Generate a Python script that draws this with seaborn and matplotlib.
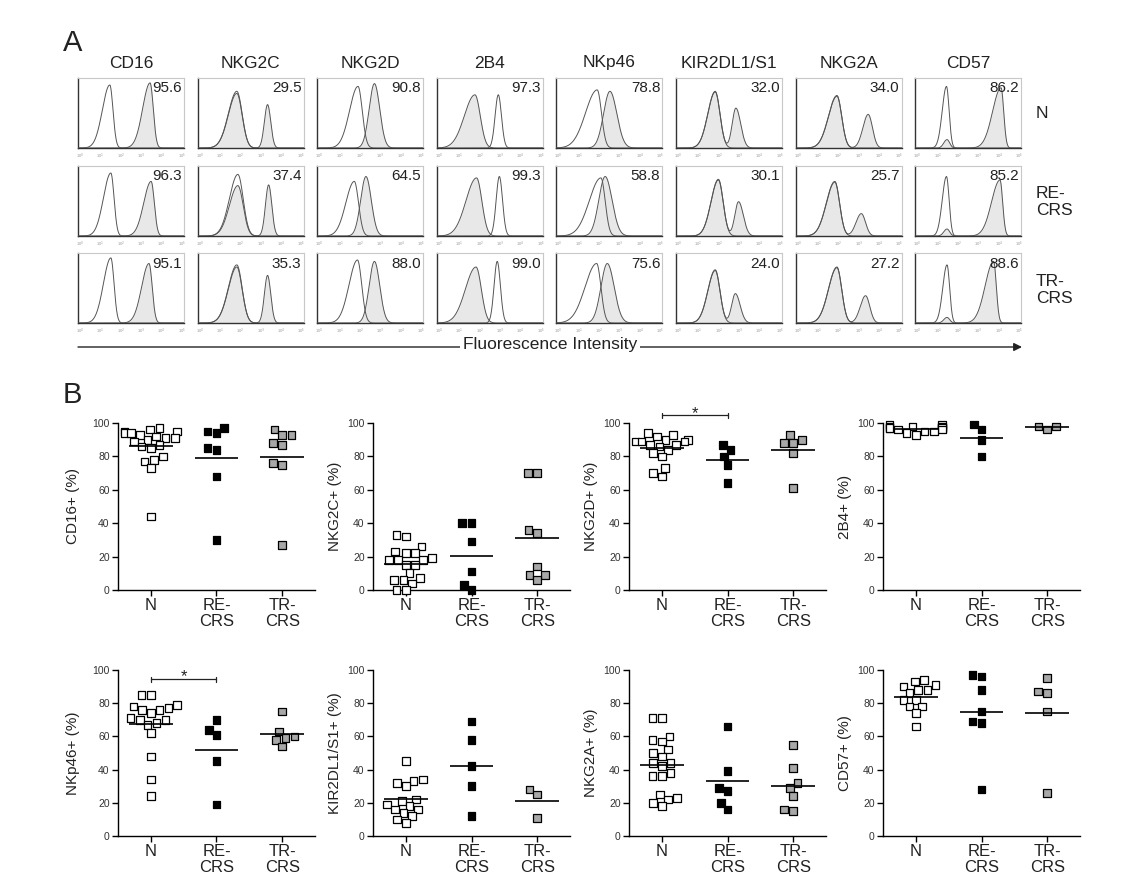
import numpy as np
import pandas as pd
import matplotlib
matplotlib.use("Agg")
import matplotlib.pyplot as plt
import seaborn as sns

# ---------------- Panel A data (flow histograms) ----------------
markers = ["CD16", "NKG2C", "NKG2D", "2B4", "NKp46", "KIR2DL1/S1", "NKG2A", "CD57"]
row_names = ["N", "RE-\nCRS", "TR-\nCRS"]
pct = [[95.6, 96.3, 95.1], [29.5, 37.4, 35.3], [90.8, 64.5, 88.0], [97.3, 99.3, 99.0],
       [78.8, 58.8, 75.6], [32.0, 30.1, 24.0], [34.0, 25.7, 27.2], [86.2, 85.2, 88.6]]

# open (unfilled) curve peak: centre / height per marker x row, widths per marker
open_c = [[0.30, 0.31, 0.31], [0.37, 0.38, 0.37], [0.385, 0.35, 0.38], [0.58, 0.59, 0.57],
          [0.385, 0.42, 0.38], [0.37, 0.40, 0.37], [0.39, 0.37, 0.39], [0.295, 0.295, 0.30]]
open_h = [[0.90, 0.90, 0.93], [0.81, 0.88, 0.83], [0.88, 0.78, 0.90], [0.76, 0.85, 0.88],
          [0.83, 0.83, 0.85], [0.81, 0.81, 0.76], [0.75, 0.78, 0.80], [0.88, 0.85, 0.83]]
open_wl = [0.07, 0.08, 0.08, 0.03, 0.11, 0.07, 0.08, 0.04]
open_wr = [0.03, 0.05, 0.04, 0.03, 0.04, 0.045, 0.045, 0.025]

# filled curve: main peak
fill_c = [[0.68, 0.69, 0.67], [0.37, 0.38, 0.37], [0.54, 0.46, 0.54], [0.36, 0.375, 0.37],
          [0.505, 0.46, 0.48], [0.37, 0.40, 0.37], [0.39, 0.37, 0.39], [0.81, 0.80, 0.74]]
fill_h = [[0.93, 0.78, 0.85], [0.78, 0.72, 0.80], [0.92, 0.85, 0.88], [0.76, 0.83, 0.80],
          [0.81, 0.85, 0.85], [0.80, 0.80, 0.75], [0.74, 0.77, 0.79], [0.86, 0.80, 0.88]]
fill_wl = [0.07, 0.08, 0.05, 0.10, 0.06, 0.07, 0.08, 0.08]
fill_wr = [0.03, 0.05, 0.05, 0.05, 0.065, 0.045, 0.045, 0.025]

# filled curve: second peak (height 0 = none)
sec_c = [[0, 0, 0], [0.66, 0.67, 0.66], [0, 0, 0], [0, 0, 0],
         [0, 0, 0], [0.565, 0.59, 0.56], [0.685, 0.62, 0.66], [0.30, 0.30, 0.30]]
sec_h = [[0, 0, 0], [0.62, 0.73, 0.68], [0, 0, 0], [0, 0, 0],
         [0, 0, 0], [0.57, 0.49, 0.42], [0.48, 0.32, 0.39], [0.12, 0.10, 0.08]]
sec_wl = [0.03, 0.03, 0.03, 0.03, 0.03, 0.035, 0.05, 0.03]
sec_wr = [0.03, 0.03, 0.03, 0.03, 0.03, 0.045, 0.04, 0.025]

hist_ticklabels = ["10$^0$", "10$^1$", "10$^2$", "10$^3$", "10$^4$", "10$^5$"]

# ---------------- Panel B data (% positive cells) ----------------
groups = ["N", "RE-\nCRS", "TR-\nCRS"]

cd16_N = [97, 96, 95, 95, 94, 94, 93, 92, 91, 91, 90, 89, 87, 86, 85, 80, 78, 77, 73, 44]
cd16_RE = [97, 95, 94, 85, 84, 68, 30]
cd16_TR = [96, 93, 93, 88, 87, 76, 75, 27]

nkg2c_N = [33, 32, 26, 23, 22, 22, 19, 18, 18, 18, 15, 15, 10, 7, 6, 6, 4, 0, 0]
nkg2c_RE = [40, 40, 29, 11, 3, 0]
nkg2c_TR = [70, 70, 36, 34, 14, 9, 9, 6]

nkg2d_N = [94, 93, 92, 90, 90, 89, 89, 89, 87, 87, 86, 84, 82, 80, 73, 70, 68]
nkg2d_RE = [87, 84, 80, 75, 64]
nkg2d_TR = [93, 90, 88, 88, 82, 61]

b2b4_N = [99, 99, 98, 98, 98, 97, 97, 97, 97, 96, 96, 95, 95, 94, 93]
b2b4_RE = [99, 96, 90, 80]
b2b4_TR = [98, 98, 96]

nkp46_N = [85, 85, 79, 78, 77, 76, 76, 74, 71, 70, 70, 68, 67, 62, 48, 34, 24]
nkp46_RE = [70, 64, 61, 45, 19]
nkp46_TR = [75, 63, 60, 59, 58, 54]

kir_N = [45, 34, 33, 32, 30, 22, 21, 19, 18, 16, 16, 14, 12, 10, 8]
kir_RE = [69, 58, 42, 30, 12]
kir_TR = [28, 25, 11]

nkg2a_N = [71, 71, 60, 58, 57, 52, 50, 48, 44, 44, 42, 38, 36, 36, 25, 23, 22, 20, 18]
nkg2a_RE = [66, 39, 29, 27, 20, 16]
nkg2a_TR = [55, 41, 32, 29, 24, 16, 15]

cd57_N = [94, 93, 91, 90, 88, 88, 86, 82, 82, 78, 78, 74, 66]
cd57_RE = [97, 96, 88, 75, 69, 68, 28]
cd57_TR = [95, 87, 86, 75, 26]

b_labels = ["CD16+ (%)", "NKG2C+ (%)", "NKG2D+ (%)", "2B4+ (%)",
            "NKp46+ (%)", "KIR2DL1/S1+ (%)", "NKG2A+ (%)", "CD57+ (%)"]
b_data = [(cd16_N, cd16_RE, cd16_TR), (nkg2c_N, nkg2c_RE, nkg2c_TR),
          (nkg2d_N, nkg2d_RE, nkg2d_TR), (b2b4_N, b2b4_RE, b2b4_TR),
          (nkp46_N, nkp46_RE, nkp46_TR), (kir_N, kir_RE, kir_TR),
          (nkg2a_N, nkg2a_RE, nkg2a_TR), (cd57_N, cd57_RE, cd57_TR)]
# significance bars: panel index -> bracket height
sig_bars = {2: 104.5, 4: 94.5}

# ---------------- style ----------------
sns.set_theme(style="white")
plt.rcParams['font.family'] = ['Liberation Sans', 'DejaVu Sans']
plt.rcParams['text.color'] = '#222222'
plt.rcParams['axes.labelcolor'] = '#222222'

W, H = 1124, 890
fig = plt.figure(figsize=(W / 100, H / 100), dpi=100)


def px_axes(l, t, w, h):
    return fig.add_axes([l / W, 1 - (t + h) / H, w / W, h / H])


# overlay for figure-level text
ov = fig.add_axes([0, 0, 1, 1])
ov.set_xlim(0, W)
ov.set_ylim(H, 0)
ov.axis('off')

xs = np.linspace(0, 1, 400)


def peak(c, h, wl, wr):
    w = np.where(xs < c, wl, wr)
    return h * np.exp(-0.5 * ((xs - c) / w) ** 2)


col_left = [78 + 119.6 * j for j in range(8)]
row_top = [78, 166, 253]
hw, hh = 106, 70

for j, m in enumerate(markers):
    ov.text(col_left[j] + hw / 2, 63, m, ha='center', va='center', fontsize=12.5)
    for i in range(3):
        ax = px_axes(col_left[j], row_top[i], hw, hh)
        yo = peak(open_c[j][i], open_h[j][i], open_wl[j], open_wr[j])
        yf = peak(fill_c[j][i], fill_h[j][i], fill_wl[j], fill_wr[j])
        if sec_h[j][i] > 0:
            yf = yf + peak(sec_c[j][i], sec_h[j][i], sec_wl[j], sec_wr[j])
        ax.fill_between(xs, 0, yf, color='#e8e8e8', lw=0, zorder=1)
        sns.lineplot(x=xs, y=yf, ax=ax, color='#555555', lw=0.7, zorder=2)
        sns.lineplot(x=xs, y=yo, ax=ax, color='#555555', lw=0.7, zorder=3)
        ax.set_xlim(0, 1)
        ax.set_ylim(0, 1.0)
        ax.set_xticks(np.linspace(0.02, 0.98, 6))
        ax.set_xticklabels(hist_ticklabels)
        ax.set_yticks([])
        ax.tick_params(axis='x', length=1.5, width=0.5, color='#777777', pad=1,
                       labelsize=3, labelcolor='#999999')
        for s in ['top', 'right']:
            ax.spines[s].set_color('#c8c8c8')
            ax.spines[s].set_linewidth(0.8)
        for s in ['left', 'bottom']:
            ax.spines[s].set_color('#333333')
            ax.spines[s].set_linewidth(1.0)
        ax.set_xlabel('')
        ax.set_ylabel('')
        ax.text(0.98, 0.95, f"{pct[j][i]:.1f}", transform=ax.transAxes,
                ha='right', va='top', fontsize=11, color='#222222', zorder=5)

for i, (yc, lab) in enumerate(zip([113, 202, 290], row_names)):
    ov.text(1036, yc, lab, ha='left', va='center', fontsize=12.5, linespacing=1.1)

ov.text(63, 51, 'A', fontsize=21, va='baseline', ha='left')
ov.text(63, 403, 'B', fontsize=21, va='baseline', ha='left')
ov.annotate('', xy=(1022, 347), xytext=(78, 347),
            arrowprops=dict(arrowstyle='-|>', color='#222222', lw=1.0,
                            mutation_scale=12, shrinkA=0, shrinkB=0))
ov.text(550, 345, 'Fluorescence Intensity', ha='center', va='center', fontsize=12.5,
        bbox=dict(facecolor='white', edgecolor='none', pad=2))

# ---------------- Panel B ----------------
pal = {groups[0]: 'white', groups[1]: 'black', groups[2]: '#a8a8a8'}
b_left = [118, 373, 629, 883]
b_top = [423, 670]
b_h = [167, 166]
b_w = 197
labelpads = [9, 4, 4, 4]

for k in range(8):
    r, c = divmod(k, 4)
    ax = px_axes(b_left[c], b_top[r], b_w, b_h[r])
    vals, grp = [], []
    for g, arr in zip(groups, b_data[k]):
        vals += list(arr)
        grp += [g] * len(arr)
    df = pd.DataFrame({'group': grp, 'value': vals})
    sns.swarmplot(data=df, x='group', y='value', order=groups, hue='group',
                  hue_order=groups, palette=pal, marker='s', size=5.5,
                  linewidth=0.9, edgecolor='black', legend=False, ax=ax,
                  warn_thresh=1, clip_on=False, zorder=3)
    means = df.groupby('group', sort=False)['value'].mean().reindex(groups).values
    xi = np.arange(len(groups))
    ax.hlines(means, xi - 0.33, xi + 0.33, color='black', lw=1.2, zorder=4)
    ax.set_xlim(-0.5, 2.5)
    ax.set_ylim(0, 100)
    ax.set_yticks(range(0, 101, 20))
    sns.despine(ax=ax)
    for s in ['left', 'bottom']:
        ax.spines[s].set_color('black')
        ax.spines[s].set_linewidth(1.0)
    ax.tick_params(axis='both', direction='out', length=4, width=1, color='black',
                   left=True, bottom=True)
    ax.tick_params(axis='y', labelsize=7.5, labelcolor='#333333', pad=2)
    ax.tick_params(axis='x', labelsize=12, labelcolor='#222222', pad=2)
    for t in ax.get_xticklabels():
        t.set_linespacing(1.05)
    ax.set_xlabel('')
    ax.set_ylabel(b_labels[k], fontsize=11, labelpad=labelpads[c])
    if k in sig_bars:
        y = sig_bars[k]
        ax.plot([0, 1], [y, y], color='#222222', lw=0.9, clip_on=False)
        ax.plot([0, 0], [y - 1.5, y + 1.5], color='#222222', lw=0.9, clip_on=False)
        ax.plot([1, 1], [y - 1.5, y + 1.5], color='#222222', lw=0.9, clip_on=False)
        ax.text(0.5, y - 1.5, '*', ha='center', va='baseline', fontsize=12,
                clip_on=False)

fig.savefig('out.png', dpi=100)
